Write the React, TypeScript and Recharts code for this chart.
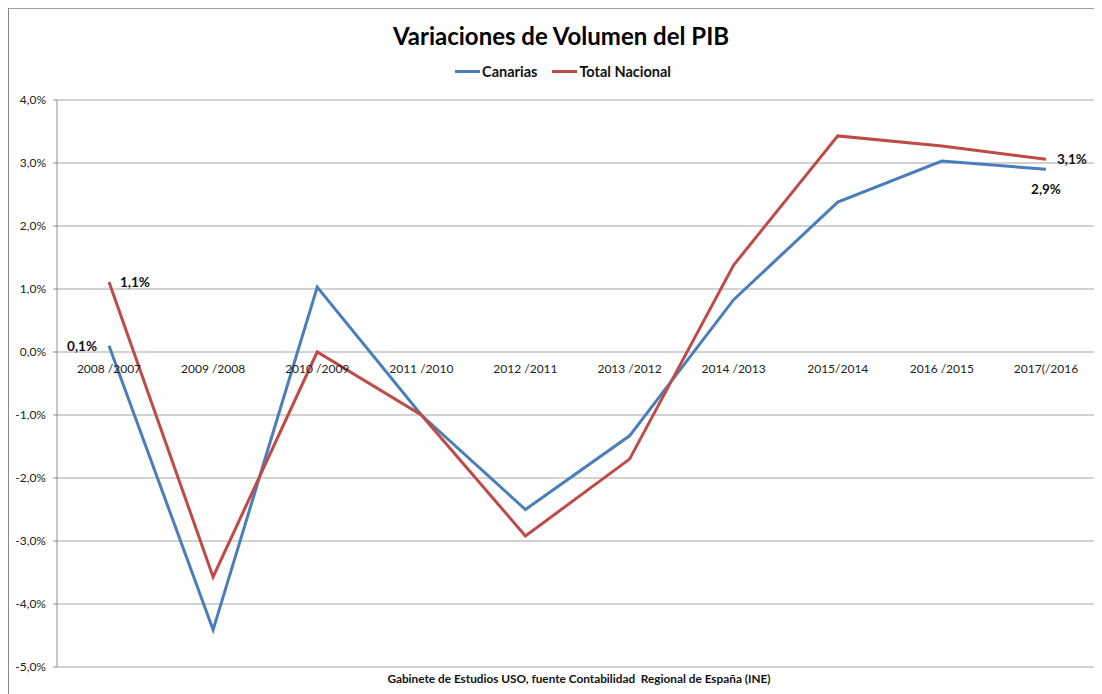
import { CartesianGrid, LabelList, Line, LineChart, XAxis, YAxis } from 'recharts';

const periods = ['2008 /2007', '2009 /2008', '2010 /2009', '2011 /2010', '2012 /2011', '2013 /2012', '2014 /2013', '2015/2014', '2016 /2015', '2017(/2016'];
const canarias = [0.1, -4.41, 1.03, -1.0, -2.5, -1.33, 0.83, 2.38, 3.03, 2.9];
const totalNacional = [1.11, -3.57, 0.0, -1.0, -2.92, -1.7, 1.38, 3.43, 3.27, 3.06];
const yTicks = [-5, -4, -3, -2, -1, 0, 1, 2, 3, 4];

const data = periods.map((period, i) => ({ period, canarias: canarias[i], total: totalNacional[i] }));

const W = 1102;
const H = 686;
const TOP = 92;
const PLOT_H = 567;
const Y_MIN = -5;
const Y_MAX = 4;
const ZERO_Y = TOP + (PLOT_H * Y_MAX) / (Y_MAX - Y_MIN);

const BLUE = '#4a7ebb';
const RED = '#be4b48';
const FONT = 'Lato, "Open Sans", sans-serif';

const pct = (v: number) => `${v.toFixed(1).replace('.', ',')}%`;

function PeriodTick(props: any) {
  const { x, payload } = props;
  return (
    <text x={x} y={ZERO_Y + 21} textAnchor="middle" fontSize={12} fill="#222" fontFamily={FONT}>
      {payload.value}
    </text>
  );
}

function makeLabel(placements: Record<number, 'left' | 'right' | 'below'>) {
  return function EndLabel(props: any) {
    const { x, y, value, index } = props;
    const where = placements[index];
    if (!where) return null;
    let tx = x;
    let ty = y + 5;
    let anchor: 'start' | 'middle' | 'end' = 'middle';
    if (where === 'left') { tx = x - 12; anchor = 'end'; }
    if (where === 'right') { tx = x + 11; anchor = 'start'; }
    if (where === 'below') { ty = y + 25; }
    return (
      <text x={tx} y={ty} textAnchor={anchor} fontSize={13.5} fontWeight={700} fill="#111" fontFamily={FONT}>
        {pct(Number(value))}
      </text>
    );
  };
}

const legendItems = [
  { name: 'Canarias', color: BLUE },
  { name: 'Total Nacional', color: RED },
];

export default function App() {
  return (
    <div style={{ position: 'relative', width: W, height: H, borderTop: '1px solid #a0a0a0', borderLeft: '1px solid #888', boxSizing: 'border-box', fontFamily: FONT }}>
      <div style={{ position: 'absolute', top: 12, left: 0, width: 1104, textAlign: 'center', fontSize: 24, fontWeight: 700, color: '#000' }}>
        Variaciones de Volumen del PIB
      </div>
      <div style={{ position: 'absolute', top: 54, left: 0, width: 1108, display: 'flex', justifyContent: 'center', gap: 15, fontSize: 14.5, fontWeight: 700, color: '#111' }}>
        {legendItems.map((it) => (
          <span key={it.name} style={{ display: 'flex', alignItems: 'center' }}>
            <span style={{ display: 'inline-block', width: 25, height: 3, background: it.color, marginRight: 2 }} />
            {it.name}
          </span>
        ))}
      </div>
      <div style={{ position: 'absolute', left: -1, top: -1 }}>
        <LineChart width={W} height={H} data={data} margin={{ top: TOP, right: 12, bottom: 0, left: 0 }}>
          <CartesianGrid vertical={false} stroke="#a6a6a6" strokeWidth={1.2} />
          <XAxis
            dataKey="period"
            axisLine={false}
            tickLine={false}
            height={H - TOP - PLOT_H}
            tick={<PeriodTick />}
            interval={0}
            padding={{ left: 52, right: 52 }}
          />
          <YAxis
            domain={[Y_MIN, Y_MAX]}
            ticks={yTicks}
            tickFormatter={pct}
            width={49}
            tickSize={4}
            tickMargin={7}
            axisLine={{ stroke: '#8c8c8c' }}
            tickLine={{ stroke: '#8c8c8c' }}
            tick={{ fontSize: 12, fill: '#222', fontFamily: FONT }}
            interval={0}
          />
          <Line dataKey="canarias" stroke={BLUE} strokeWidth={3} dot={false} isAnimationActive={false}>
            <LabelList dataKey="canarias" content={makeLabel({ 0: 'left', 9: 'below' })} />
          </Line>
          <Line dataKey="total" stroke={RED} strokeWidth={3} dot={false} isAnimationActive={false}>
            <LabelList dataKey="total" content={makeLabel({ 0: 'right', 9: 'right' })} />
          </Line>
        </LineChart>
      </div>
      <div style={{ position: 'absolute', top: 662, left: 0, width: 1140, textAlign: 'center', fontSize: 11.8, fontWeight: 700, color: '#111' }}>
        Gabinete de Estudios USO, fuente Contabilidad&nbsp; Regional de España (INE)
      </div>
    </div>
  );
}
